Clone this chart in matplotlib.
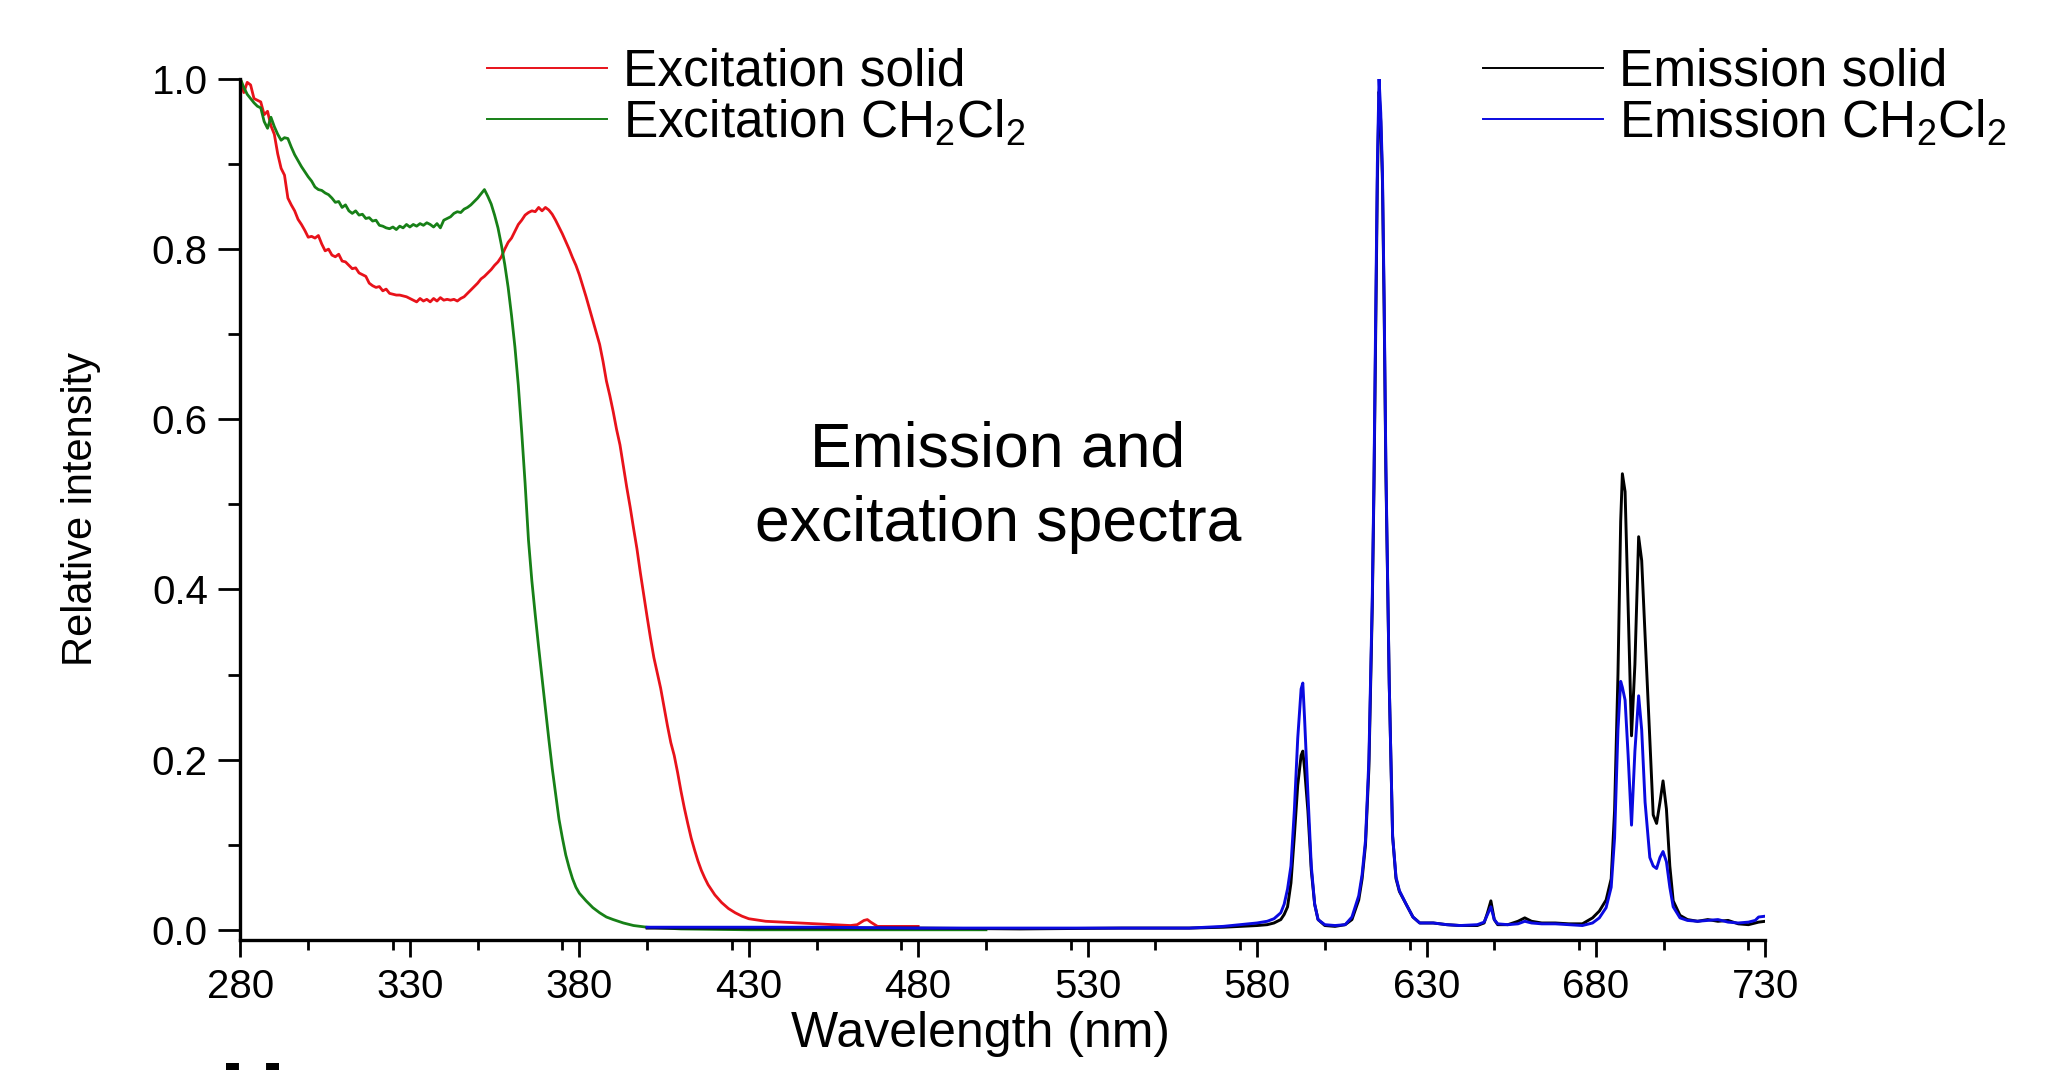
import matplotlib
matplotlib.use('Agg')
import matplotlib.pyplot as plt
from matplotlib import font_manager
from matplotlib.ticker import MultipleLocator

plt.rcParams['font.family'] = 'Liberation Sans'
plt.rcParams['mathtext.fontset'] = 'custom'
plt.rcParams['mathtext.rm'] = 'Liberation Sans'
plt.rcParams['mathtext.default'] = 'rm'

# excitation, solid sample (red)
exc_solid_x = [280, 281, 282, 283, 284, 285, 286, 287, 288, 289, 290, 291, 292, 293, 294, 295,
               296, 297, 298, 299, 300, 301, 302, 303, 304, 305, 306, 307, 308, 309, 310, 311,
               312, 313, 314, 315, 316, 317, 318, 319, 320, 321, 322, 323, 324, 325, 326, 327,
               328, 329, 330, 331, 332, 333, 334, 335, 336, 337, 338, 339, 340, 341, 342, 343,
               344, 345, 346, 347, 348, 349, 350, 351, 352, 353, 354, 355, 356, 357, 358, 359,
               360, 361, 362, 363, 364, 365, 366, 367, 368, 369, 370, 371, 372, 373, 374, 375,
               376, 377, 378, 379, 380, 381, 382, 383, 384, 385, 386, 387, 388, 389, 390, 391,
               392, 393, 394, 395, 396, 397, 398, 399, 400, 401, 402, 403, 404, 405, 406, 407,
               408, 409, 410, 411, 412, 413, 414, 415, 416, 417, 418, 419, 420, 422, 424, 426,
               428, 430, 435, 440, 445, 450, 455, 460, 462, 464, 465, 466, 468, 472, 480]
exc_solid_y = [1.000, 0.984, 0.996, 0.993, 0.977, 0.975, 0.973, 0.958, 0.962, 0.945, 0.935, 0.912,
               0.895, 0.887, 0.860, 0.852, 0.845, 0.835, 0.829, 0.822, 0.814, 0.815, 0.813, 0.816,
               0.806, 0.798, 0.800, 0.793, 0.791, 0.794, 0.786, 0.785, 0.781, 0.777, 0.778, 0.772,
               0.770, 0.768, 0.760, 0.757, 0.755, 0.756, 0.751, 0.753, 0.748, 0.747, 0.746, 0.746,
               0.745, 0.744, 0.742, 0.740, 0.738, 0.742, 0.739, 0.741, 0.738, 0.742, 0.739, 0.743,
               0.740, 0.741, 0.740, 0.741, 0.739, 0.742, 0.744, 0.748, 0.752, 0.756, 0.760, 0.765,
               0.768, 0.772, 0.776, 0.781, 0.785, 0.791, 0.800, 0.808, 0.813, 0.821, 0.829, 0.834,
               0.840, 0.843, 0.845, 0.844, 0.849, 0.845, 0.849, 0.846, 0.841, 0.834, 0.826, 0.818,
               0.809, 0.800, 0.790, 0.781, 0.770, 0.757, 0.744, 0.730, 0.716, 0.702, 0.688, 0.668,
               0.645, 0.628, 0.609, 0.588, 0.570, 0.545, 0.520, 0.497, 0.472, 0.448, 0.420, 0.394,
               0.368, 0.343, 0.320, 0.302, 0.284, 0.262, 0.240, 0.220, 0.205, 0.185, 0.163, 0.143,
               0.125, 0.108, 0.094, 0.081, 0.070, 0.061, 0.053, 0.047, 0.041, 0.032, 0.025, 0.020,
               0.016, 0.013, 0.010, 0.009, 0.008, 0.007, 0.006, 0.005, 0.006, 0.011, 0.012, 0.009,
               0.004, 0.004, 0.004]

# excitation, CH2Cl2 solution (green)
exc_sol_x = [280, 281, 282, 283, 284, 285, 286, 287, 288, 289, 290, 291, 292, 293, 294, 295,
             296, 297, 298, 299, 300, 301, 302, 303, 304, 305, 306, 307, 308, 309, 310, 311,
             312, 313, 314, 315, 316, 317, 318, 319, 320, 321, 322, 323, 324, 325, 326, 327,
             328, 329, 330, 331, 332, 333, 334, 335, 336, 337, 338, 339, 340, 341, 342, 343,
             344, 345, 346, 347, 348, 349, 350, 351, 352, 353, 354, 355, 356, 357, 358, 359,
             360, 361, 362, 363, 364, 365, 366, 367, 368, 369, 370, 371, 372, 373, 374, 375,
             376, 377, 378, 379, 380, 382, 384, 386, 388, 390, 393, 396, 400, 410, 430, 460, 500]
exc_sol_y = [1.000, 0.990, 0.982, 0.977, 0.972, 0.968, 0.966, 0.950, 0.942, 0.955, 0.944, 0.935,
             0.928, 0.931, 0.930, 0.920, 0.911, 0.904, 0.897, 0.891, 0.885, 0.880, 0.873, 0.870,
             0.869, 0.866, 0.864, 0.860, 0.855, 0.856, 0.849, 0.852, 0.845, 0.842, 0.845, 0.840,
             0.841, 0.836, 0.837, 0.833, 0.834, 0.828, 0.827, 0.825, 0.824, 0.826, 0.823, 0.827,
             0.825, 0.829, 0.826, 0.829, 0.827, 0.830, 0.828, 0.831, 0.829, 0.826, 0.830, 0.825,
             0.834, 0.836, 0.838, 0.842, 0.844, 0.843, 0.847, 0.849, 0.852, 0.856, 0.860, 0.865,
             0.870, 0.862, 0.853, 0.840, 0.825, 0.805, 0.782, 0.755, 0.722, 0.685, 0.640, 0.585,
             0.525, 0.458, 0.410, 0.370, 0.332, 0.296, 0.260, 0.224, 0.190, 0.160, 0.130, 0.108,
             0.088, 0.073, 0.060, 0.050, 0.043, 0.034, 0.026, 0.020, 0.015, 0.012, 0.008, 0.005,
             0.003, 0.001, 0.000, 0.000, 0.000]

# emission spectra (black = solid, blue = CH2Cl2)
em_x = [400, 420, 450, 480, 510, 540, 560, 570, 575, 580, 583, 585, 587, 588, 589, 590, 591, 592,
        593, 593.5, 594, 595, 596, 597, 598, 600, 603, 606, 608, 610, 611, 612, 613, 614, 614.5,
        615, 615.5, 616, 616.5, 617, 617.5, 618, 619, 620, 621, 622, 624, 626, 628, 632, 636,
        640, 645, 647, 648, 649, 650, 651, 654, 657, 659, 661, 664, 668, 672, 676, 679, 681, 683,
        684.5, 685.5, 686.5, 687.3, 687.8, 688.6, 689.5, 690.5, 691.5, 692.6, 693.5, 694.5,
        695.9, 696.9, 697.9, 698.9, 699.8, 700.8, 701.8, 702.8, 704.8, 707, 710, 713, 716, 719,
        722, 725, 727, 728, 730]
em_solid = [0.002, 0.002, 0.002, 0.002, 0.001, 0.002, 0.002, 0.003, 0.004, 0.005, 0.006, 0.008,
            0.012, 0.018, 0.027, 0.055, 0.110, 0.170, 0.205, 0.210, 0.190, 0.140, 0.070, 0.030,
            0.012, 0.005, 0.004, 0.006, 0.012, 0.035, 0.060, 0.100, 0.190, 0.380, 0.520, 0.700,
            0.880, 0.985, 0.950, 0.880, 0.730, 0.540, 0.290, 0.110, 0.060, 0.045, 0.030, 0.015,
            0.008, 0.008, 0.006, 0.005, 0.005, 0.008, 0.020, 0.034, 0.012, 0.006, 0.006, 0.010,
            0.014, 0.010, 0.008, 0.008, 0.007, 0.007, 0.014, 0.022, 0.035, 0.060, 0.140, 0.300,
            0.480, 0.536, 0.515, 0.380, 0.228, 0.312, 0.462, 0.434, 0.346, 0.224, 0.135, 0.125,
            0.150, 0.175, 0.142, 0.075, 0.034, 0.017, 0.012, 0.010, 0.012, 0.010, 0.011, 0.007,
            0.006, 0.008, 0.009, 0.010]
em_sol = [0.003, 0.003, 0.003, 0.002, 0.002, 0.002, 0.002, 0.004, 0.006, 0.008, 0.010, 0.013,
          0.020, 0.030, 0.048, 0.075, 0.140, 0.225, 0.283, 0.290, 0.250, 0.160, 0.075, 0.030,
          0.012, 0.006, 0.005, 0.006, 0.015, 0.040, 0.065, 0.105, 0.200, 0.390, 0.530, 0.720,
          0.900, 1.000, 0.960, 0.890, 0.740, 0.550, 0.290, 0.110, 0.062, 0.046, 0.030, 0.015,
          0.008, 0.008, 0.006, 0.005, 0.006, 0.009, 0.018, 0.027, 0.012, 0.007, 0.006, 0.007,
          0.010, 0.008, 0.007, 0.007, 0.006, 0.005, 0.008, 0.014, 0.026, 0.050, 0.108, 0.235,
          0.292, 0.285, 0.270, 0.205, 0.123, 0.210, 0.275, 0.235, 0.150, 0.085, 0.075, 0.072,
          0.085, 0.092, 0.080, 0.050, 0.027, 0.014, 0.011, 0.010, 0.011, 0.012, 0.009, 0.008,
          0.009, 0.011, 0.015, 0.016]

x_ticks = [280, 330, 380, 430, 480, 530, 580, 630, 680, 730]
y_ticks = [0.0, 0.2, 0.4, 0.6, 0.8, 1.0]

fig = plt.figure(figsize=(20.48, 10.7), dpi=100)
ax = fig.add_axes([0.1174, 0.1215, 0.7446, 0.8047])

l_red, = ax.plot(exc_solid_x, exc_solid_y, color='#e8121a', lw=2.0)
l_green, = ax.plot(exc_sol_x, exc_sol_y, color='#178017', lw=2.0)
l_black, = ax.plot(em_x, em_solid, color='black', lw=2.1)
l_blue, = ax.plot(em_x, em_sol, color='#0a0ae0', lw=2.1)

ax.set_xlim(280, 730)
ax.set_ylim(-0.012, 1.0)
ax.set_xticks(x_ticks)
ax.set_yticks(y_ticks)
ax.set_yticklabels(['%.1f' % v for v in y_ticks])
ax.xaxis.set_minor_locator(MultipleLocator(25))
ax.yaxis.set_minor_locator(MultipleLocator(0.1))

for s in ['top', 'right']:
    ax.spines[s].set_visible(False)
for s in ['left', 'bottom']:
    ax.spines[s].set_linewidth(2.4)

ax.tick_params(axis='both', which='both', direction='out', width=2.0, labelsize=29)
ax.tick_params(axis='x', which='major', length=12.5, pad=8)
ax.tick_params(axis='x', which='minor', length=7.5)
ax.tick_params(axis='y', which='major', length=15.5, pad=8)
ax.tick_params(axis='y', which='minor', length=8.5)

ax.set_xlabel('Wavelength (nm)', fontsize=36)
ax.xaxis.set_label_coords(0.4856, -0.083)

names = [f.name for f in font_manager.fontManager.ttflist]
if 'Liberation Sans Narrow' in names:
    ax.set_ylabel('Relative intensity', fontsize=36, family='Liberation Sans Narrow')
else:
    ax.set_ylabel('Relative intensity', fontsize=30)
ax.yaxis.set_label_coords(-0.0915, 0.5)

ax.text(0.4967, 0.526, 'Emission and\nexcitation spectra', transform=ax.transAxes,
        fontsize=45, ha='center', va='center', multialignment='center', linespacing=1.34)

leg_kw = dict(loc='center left', bbox_transform=fig.transFigure, frameon=False, fontsize=37,
              handlelength=2.33, handletextpad=0.31, labelspacing=0.03,
              borderpad=0, borderaxespad=0)
leg1 = ax.legend([l_red, l_green], ['Excitation solid', 'Excitation CH$_2$Cl$_2$'],
                 bbox_to_anchor=(487 / 2048, 1 - 98 / 1070), **leg_kw)
for ln in leg1.get_lines():
    ln.set_linewidth(1.4)
ax.add_artist(leg1)
leg2 = ax.legend([l_black, l_blue], ['Emission solid', 'Emission CH$_2$Cl$_2$'],
                 bbox_to_anchor=(1483 / 2048, 1 - 98 / 1070), **leg_kw)
for ln in leg2.get_lines():
    ln.set_linewidth(1.4)

# bold letter cut off by the bottom edge, as in the source slide
fig.text(0.1076, -0.0528, 'H', fontsize=65, fontweight='bold', va='baseline')

fig.savefig('out.png', dpi=100)
